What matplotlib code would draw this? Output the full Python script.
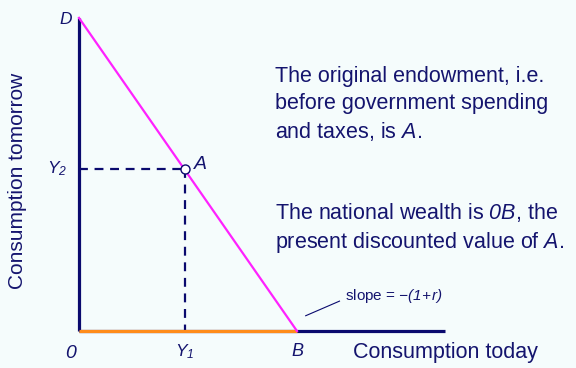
import matplotlib
matplotlib.use("Agg")
import matplotlib.pyplot as plt

plt.rcParams['font.family'] = ['Liberation Sans', 'DejaVu Sans']
plt.rcParams['mathtext.fontset'] = 'custom'
plt.rcParams['mathtext.rm'] = 'Liberation Sans:italic'
plt.rcParams['mathtext.it'] = 'Liberation Sans:italic'

# Data (units: arbitrary, consumption)
B = 10.0          # x-intercept (national wealth)
D = 14.36         # y-intercept
Y1 = 4.86         # endowment today
Y2 = 7.43         # endowment tomorrow
x_axis_end = 16.8

budget_x = [0, B]
budget_y = [D, 0]

NAVY = '#0a0a6e'
TXT = '#14146e'
BG = '#f5fcfc'

fig = plt.figure(figsize=(5.76, 3.68), dpi=100)
fig.patch.set_facecolor(BG)
ax = fig.add_axes([0, 0, 1, 1])
ax.set_facecolor(BG)
ax.set_xlim(-3.624, 22.80)
ax.set_ylim(-1.697, 15.18)
ax.axis('off')

# axes
ax.plot([0, 0], [0, D], color=NAVY, lw=2.3, solid_capstyle='butt', zorder=3)
ax.plot([0, x_axis_end], [0, 0], color=NAVY, lw=2.3, solid_capstyle='butt', zorder=2)
ax.plot([0, B], [0, 0], color='#ff8c1a', lw=2.3, solid_capstyle='butt', zorder=3)

# budget line
ax.plot(budget_x, budget_y, color='#ff22ff', lw=1.6, zorder=4)

# dashed guides
ax.plot([0, Y1], [Y2, Y2], color=NAVY, lw=1.6, ls=(0, (4, 3)), zorder=2)
ax.plot([Y1, Y1], [Y2, 0], color=NAVY, lw=1.6, ls=(0, (4, 3)), zorder=2)
ax.plot([Y1], [Y2], marker='o', ms=6.5, mfc='white', mec=NAVY, mew=1.0, zorder=5)

# labels
fs = 15.5
ax.text(-0.6, 14.3, 'D', style='italic', color=TXT, fontsize=12.5, ha='center', va='center')
ax.text(-0.55, Y2, r'$Y_2$', color=TXT, fontsize=12.5, ha='right', va='center')
ax.text(Y1, -0.95, r'$Y_1$', color=TXT, fontsize=12.5, ha='center', va='center')
ax.text(Y1 + 0.7, Y2 + 0.2, 'A', style='italic', color=TXT, fontsize=14, ha='center', va='center')
ax.text(-0.4, -1.05, '0', style='italic', color=TXT, fontsize=14, ha='center', va='center')
ax.text(B, -0.95, 'B', style='italic', color=TXT, fontsize=13, ha='center', va='center')
ax.text(12.57, -0.98, 'Consumption today', color=TXT, fontsize=fs, ha='left', va='center')
ax.text(-2.8, 6.9, 'Consumption tomorrow', color=TXT, fontsize=15, rotation=90,
        ha='center', va='center')

# slope annotation
ax.plot([10.4, 11.95], [0.7, 1.37], color=NAVY, lw=0.8)
ax.text(12.2, 1.6, r'slope = $-(1\!+\!r)$', color=TXT, fontsize=11, ha='left', va='center')

ax.text(9.0, 10.37, 'The original endowment, i.e.\nbefore government spending\nand taxes, is $A$.',
        color=TXT, fontsize=fs, ha='left', va='center', linespacing=1.35)
ax.text(9.0, 4.72, 'The national wealth is $0B$, the\npresent discounted value of $A$.',
        color=TXT, fontsize=fs, ha='left', va='center', linespacing=1.35)

fig.savefig('out.png', dpi=100, facecolor=BG)
